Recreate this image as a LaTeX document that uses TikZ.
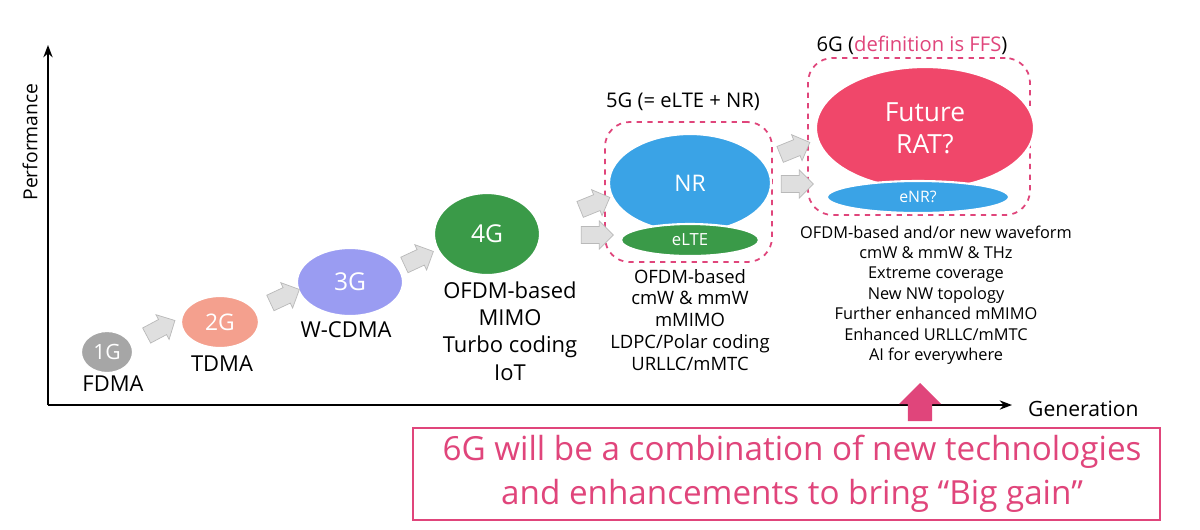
\documentclass[tikz,border=0pt]{standalone}
\usepackage{fontspec}
\setmainfont{Open Sans}
\usetikzlibrary{shapes.arrows,shapes.geometric,arrows.meta}
\definecolor{pinkc}{HTML}{E0457B}
\definecolor{gA}{HTML}{A6A6A6}
\definecolor{g2}{HTML}{F4A08E}
\definecolor{g3}{HTML}{9A9CF2}
\definecolor{g4}{HTML}{3A9A48}
\definecolor{nrb}{HTML}{3AA3E6}
\definecolor{futr}{HTML}{F0476A}
\tikzset{
 gen/.style={ellipse,draw=white,line width=1.2pt,text=white,inner sep=0pt},
 garrow/.style={single arrow,fill=gray!25,draw=gray!55,minimum height=32*0.02cm,minimum width=28*0.02cm,single arrow head extend=3pt,inner xsep=0pt,inner ysep=4.5pt},
 lbl/.style={align=center,inner sep=0pt},
 grp/.style={draw=pinkc,dashed,line width=1pt,rounded corners=14pt}
}
\begin{document}
\begin{tikzpicture}[x=0.02cm,y=-0.02cm]
\useasboundingbox (0,0) rectangle (1200,529);
\fill[white] (0,0) rectangle (1200,529);
% axes
\coordinate (o) at (48,405); \coordinate (yt) at (48,45); \coordinate (xt) at (1012,405);
\draw[line width=1pt,-{Stealth[length=7pt]}] (o) -- (yt);
\draw[line width=1pt,-{Stealth[length=7pt]}] (o) -- (xt);
\node[rotate=90,font=\fontsize{11}{13}\selectfont] (perf) at (30,142) {Performance};
\node[font=\fontsize{12}{14}\selectfont,anchor=west] (gen) at (1022,409) {Generation};
% generations
\node[gen,fill=gA,minimum width=52*0.02cm,minimum height=42*0.02cm,font=\fontsize{12}{14}\selectfont] (g1) at (107,352) {1G};
\node[lbl,font=\fontsize{12.5}{14}\selectfont] (t1) at (113,384) {FDMA};
\node[gen,fill=g2,minimum width=78*0.02cm,minimum height=52*0.02cm,font=\fontsize{13}{14}\selectfont] (g2n) at (220,322) {2G};
\node[lbl,font=\fontsize{12.5}{14}\selectfont] (t2) at (222,364) {TDMA};
\node[gen,fill=g3,minimum width=106*0.02cm,minimum height=68*0.02cm,font=\fontsize{14}{16}\selectfont] (g3n) at (350,282) {3G};
\node[lbl,font=\fontsize{12.5}{14}\selectfont] (t3) at (346,330) {W-CDMA};
\node[gen,fill=g4,minimum width=106*0.02cm,minimum height=82*0.02cm,font=\fontsize{14}{16}\selectfont] (g4n) at (487,234) {4G};
\node[lbl,font=\fontsize{12.5}{15.5}\selectfont] (t4) at (510,331) {OFDM-based\\MIMO\\Turbo coding\\IoT};
% 5G
\node[grp,minimum width=167*0.02cm,minimum height=140*0.02cm] (b5) at (688.5,192) {};
\node[font=\fontsize{11.5}{14}\selectfont] (h5) at (683,102) {5G (= eLTE + NR)};
\node[gen,fill=nrb,minimum width=162*0.02cm,minimum height=98*0.02cm,font=\fontsize{13}{16}\selectfont] (nr) at (690,183) {NR};
\node[gen,fill=g4,minimum width=138*0.02cm,minimum height=32*0.02cm,font=\fontsize{9.5}{11}\selectfont] (elte) at (690,240) {eLTE};
\node[lbl,font=\fontsize{10.5}{12.5}\selectfont] (t5) at (690,320) {OFDM-based\\cmW \& mmW\\mMIMO\\LDPC/Polar coding\\URLLC/mMTC};
% 6G
\node[grp,minimum width=222*0.02cm,minimum height=157*0.02cm] (b6) at (919,136.5) {};
\node[font=\fontsize{11.5}{14}\selectfont] (h6) at (912,45) {6G (\textcolor{pinkc}{definition is FFS})};
\node[gen,fill=futr,minimum width=218*0.02cm,minimum height=122*0.02cm,font=\fontsize{15}{18}\selectfont,align=center] (fr) at (925,128) {Future\\RAT?};
\node[gen,fill=nrb,minimum width=182*0.02cm,minimum height=32*0.02cm,font=\fontsize{9}{11}\selectfont] (enr) at (918,197) {eNR?};
\node[lbl,font=\fontsize{9.3}{11.6}\selectfont] (t6) at (936,295) {OFDM-based and/or new waveform\\cmW \& mmW \& THz\\Extreme coverage\\New NW topology\\Further enhanced mMIMO\\Enhanced URLLC/mMTC\\AI for everywhere};
% gray arrows
\node[garrow,rotate=28] (a1) at (157,330) {};
\node[garrow,rotate=25] (a2) at (281,298) {};
\node[garrow,rotate=25] (a3) at (415,260) {};
\node[garrow,rotate=22] (a4) at (591,205) {};
\node[garrow,rotate=0] (a5) at (593,235) {};
\node[garrow,rotate=22] (a6) at (791,150) {};
\node[garrow,rotate=0] (a7) at (793,184) {};
% pink arrow
\node[single arrow,rotate=90,fill=pinkc,draw=none,minimum height=38*0.02cm,minimum width=42*0.02cm,single arrow head extend=5pt,inner xsep=0pt,inner ysep=6.5pt] (pa) at (920,408) {};
% box
\node[draw=pinkc,line width=1pt,minimum width=747*0.02cm,minimum height=92*0.02cm,inner sep=0pt] (bx) at (786.5,474) {};
\node[lbl,text=pinkc,font=\fontsize{18.9}{25}\selectfont] (bt) at (792,474) {6G will be a combination of new technologies\\and enhancements to bring “Big gain”};
\end{tikzpicture}
\end{document}
